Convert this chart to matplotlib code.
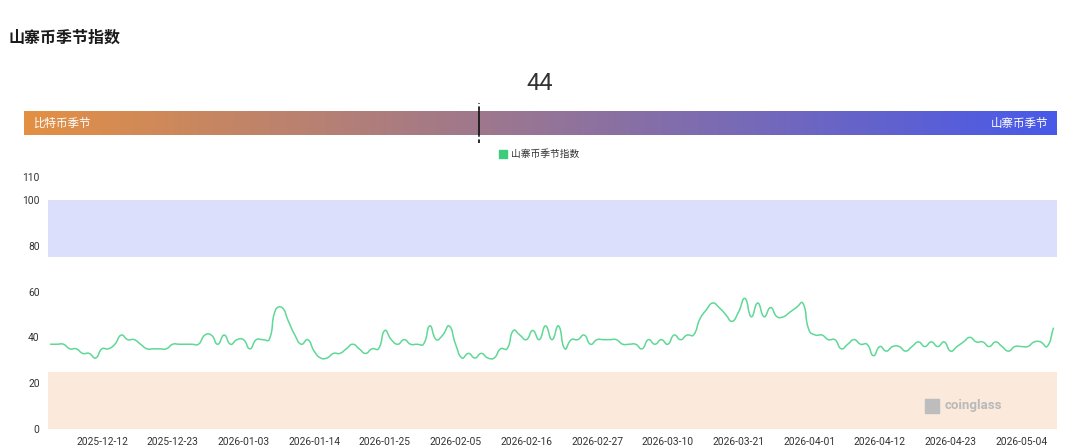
import numpy as np
import pandas as pd
import matplotlib
matplotlib.use("Agg")
import matplotlib.pyplot as plt
from matplotlib.path import Path
from matplotlib.patches import PathPatch, Rectangle
from matplotlib.colors import LinearSegmentedColormap

plt.rcParams['font.family'] = ['Noto Sans CJK SC', 'DejaVu Sans']

# ---------------- data ----------------
title = "山寨币季节指数"
series_name = "山寨币季节指数"
current_value = 44
left_label = "比特币季节"
right_label = "山寨币季节"
start_date = "2025-12-04"
values = [
    37, 37, 37, 35, 35, 33, 33, 31, 35, 35, 37, 41, 39, 39, 37, 35, 35, 35, 35, 37,
    37, 37, 37, 37, 41, 41, 37, 41, 37, 39, 39, 35, 39, 39, 39, 52, 53, 47, 41, 37,
    39, 34, 31, 31, 33, 33, 35, 37, 35, 33, 35, 35, 43, 39, 37, 39, 37, 37, 37, 45,
    39, 41, 45, 37, 31, 33, 31, 33, 31, 31, 35, 35, 43, 41, 39, 43, 39, 45, 39, 45,
    35, 39, 39, 41, 37, 39, 39, 39, 39, 37, 37, 37, 35, 39, 37, 39, 37, 41, 39, 41,
    41, 48, 52, 55, 53, 50, 47, 51, 57, 49, 55, 49, 53, 49, 49, 51, 53, 55, 43, 41,
    41, 39, 39, 35, 37, 39, 37, 37, 32, 36, 34, 36, 36, 34, 36, 38, 36, 38, 36, 38,
    34, 36, 38, 40, 38, 38, 36, 38, 36, 34, 36, 36, 36, 38, 38, 36, 44,
]
dates = pd.date_range(start_date, periods=len(values), freq="D")
tick_every = 11
first_tick = "2025-12-12"
y_ticks = [0, 20, 40, 60, 80, 100, 110]
btc_band = (0, 25)
alt_band = (75, 100)

# ---------------- figure ----------------
W, H = 1080, 447
fig = plt.figure(figsize=(W / 100, H / 100), dpi=100)

def fx(px):
    return px / W

def fy(py):
    return 1 - py / H

# title
fig.text(fx(8), fy(38), title, fontsize=11.5, fontweight='bold', color='#1a1a1a',
         va='center', ha='left')

# value
fig.text(fx(540), fy(84), str(current_value), fontsize=17, color='#333333',
         va='center', ha='center', family=['Roboto', 'DejaVu Sans'])

# gradient bar
bar_l, bar_r, bar_t, bar_b = 24, 1057, 111, 135
bax = fig.add_axes([fx(bar_l), fy(bar_b), fx(bar_r - bar_l), (bar_b - bar_t) / H])
cmap = LinearSegmentedColormap.from_list("season", ["#e39044", "#4859e9"])
bax.imshow(np.linspace(0, 1, 512)[None, :], aspect='auto', cmap=cmap,
           extent=[0, 100, 0, 1])
bax.set_xlim(0, 100)
bax.set_ylim(0, 1)
bax.axis('off')
bax.text(1.0, 0.5, left_label, color='white', fontsize=8.3, va='center', ha='left')
bax.text(99.2, 0.5, right_label, color='white', fontsize=8.3, va='center', ha='right')
bax.plot([current_value, current_value], [0, 1], color='#1a1a1a', lw=1.3, clip_on=False)
bax.plot([current_value, current_value], [1.05, 1.35], color='#1a1a1a', lw=1.3,
         clip_on=False, linestyle=(0, (2, 1.5)))
bax.plot([current_value, current_value], [-0.35, -0.05], color='#1a1a1a', lw=1.3,
         clip_on=False, linestyle=(0, (2, 1.5)))

# legend
fig.patches.append(Rectangle((fx(499), fy(158)), 8 / W, 8 / H, transform=fig.transFigure,
                             color='#3ccc7c', figure=fig))
fig.text(fx(511), fy(154), series_name, fontsize=7, color='#333333', va='center', ha='left')

# main axes
ax_l, ax_r, ax_t, ax_b = 48, 1057, 177, 429
ax = fig.add_axes([fx(ax_l), fy(ax_b), fx(ax_r - ax_l), (ax_b - ax_t) / H])
n = len(values)
x = np.arange(n)
ax.set_xlim(-0.4, n - 1 + 0.55)
ax.set_ylim(0, 110)

ax.axhspan(*btc_band, color='#fbe9db', lw=0, zorder=0)
ax.axhspan(*alt_band, color='#dcdffb', lw=0, zorder=0)

# smooth bezier line (ECharts-like smoothing)
sx = (ax_r - ax_l) / (n - 1 + 0.95)
sy = (ax_b - ax_t) / 110.0
P = np.column_stack([x * sx, np.asarray(values, float) * sy])
smooth = 0.5
cps_prev = np.zeros_like(P)
cps_next = np.zeros_like(P)
for i in range(n):
    p0 = P[max(i - 1, 0)]
    p2 = P[min(i + 1, n - 1)]
    v = (p2 - p0) * smooth
    d0 = np.hypot(*(P[i] - p0))
    d1 = np.hypot(*(P[i] - p2))
    tot = d0 + d1
    if tot == 0:
        cps_prev[i] = P[i]
        cps_next[i] = P[i]
    else:
        cps_prev[i] = P[i] - v * d0 / tot
        cps_next[i] = P[i] + v * d1 / tot
verts = [P[0]]
codes = [Path.MOVETO]
for i in range(n - 1):
    verts += [cps_next[i], cps_prev[i + 1], P[i + 1]]
    codes += [Path.CURVE4] * 3
verts = np.array(verts) / np.array([sx, sy])
ax.add_patch(PathPatch(Path(verts, codes), fill=False, edgecolor='#5fd896', lw=1.1,
                       zorder=3, capstyle='round', joinstyle='round'))

# ticks
tick_idx = list(range(int((pd.Timestamp(first_tick) - dates[0]).days), n, tick_every))
ax.set_xticks(tick_idx)
ax.set_xticklabels([dates[i].strftime("%Y-%m-%d") for i in tick_idx],
                   family=['Roboto', 'DejaVu Sans'], fontsize=7.4, color='#333333')
ax.set_yticks(y_ticks)
ax.set_yticklabels([str(t) for t in y_ticks], family=['Roboto', 'DejaVu Sans'],
                   fontsize=7.4, color='#333333')
ax.tick_params(axis='both', length=0)
ax.tick_params(axis='x', pad=6)
ax.tick_params(axis='y', pad=6)
for s in ax.spines.values():
    s.set_visible(False)

# watermark
fig.text(fx(945), fy(406), "coinglass", fontsize=9.5, fontweight='bold', color='#b9b9b9',
         va='center', ha='left', family=['Roboto', 'DejaVu Sans'])
fig.patches.append(Rectangle((fx(925), fy(413)), 14 / W, 14 / H, transform=fig.transFigure,
                             color='#bdbdbd', figure=fig))

fig.savefig("out.png", dpi=100)
